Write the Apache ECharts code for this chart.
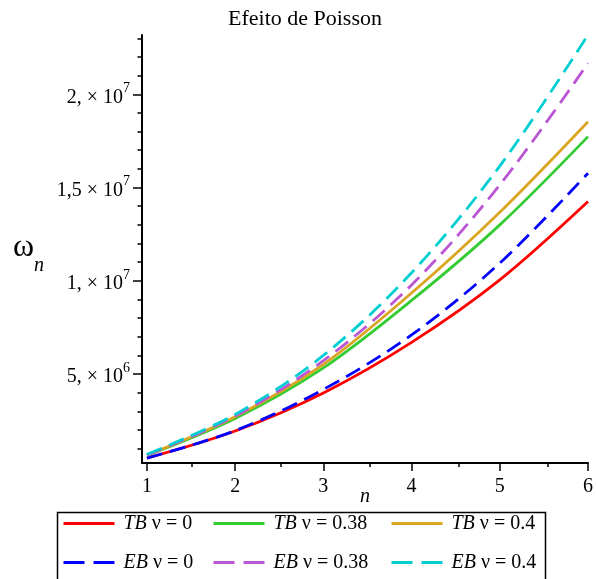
<!DOCTYPE html>
<html><head><meta charset="utf-8">
<script src="https://cdn.jsdelivr.net/npm/echarts@6/dist/echarts.min.js"></script>
<style>html,body{margin:0;padding:0;background:#fff}#c{width:596px;height:579px}</style>
</head><body><div id="c"></div>
<script>
// ---- data ----
const nValues = [1, 2, 3, 4, 5, 6];
const tbNu0   = [0.50e6, 1.95e6, 3.99e6, 6.70e6, 10.05e6, 14.25e6];
const tbNu038 = [0.64e6, 2.62e6, 5.33e6, 8.95e6, 13.00e6, 17.73e6];
const tbNu04  = [0.66e6, 2.72e6, 5.52e6, 9.35e6, 13.68e6, 18.53e6];
const ebNu0   = [0.50e6, 1.97e6, 4.18e6, 7.10e6, 10.95e6, 15.77e6];
const ebNu038 = [0.66e6, 2.75e6, 5.72e6, 9.78e6, 15.14e6, 21.66e6];
const ebNu04  = [0.70e6, 2.84e6, 6.00e6, 10.43e6, 16.15e6, 23.18e6];
const seriesNames = ['TB ν = 0', 'TB ν = 0.38', 'TB ν = 0.4', 'EB ν = 0', 'EB ν = 0.38', 'EB ν = 0.4'];

const xTickValues = [1, 2, 3, 4, 5, 6];
const xMinorTicks = [1.5, 2.5, 3.5, 4.5, 5.5];
const yTickValues = [5e6, 1e7, 1.5e7, 2e7];
const yTickMantissa = ['5,', '1,', '1,5', '2,'];
const yTickExponent = ['6', '7', '7', '7'];
const yMinorTicks = [1e6, 2e6, 3e6, 4e6, 6e6, 7e6, 8e6, 9e6, 11e6, 12e6, 13e6, 14e6,
                     16e6, 17e6, 18e6, 19e6, 21e6, 22e6, 23e6];

// ---- styling ----
const FONT = 'Liberation Serif';
const XMIN = 0.944, XMAX = 6, YMIN = 236000, YMAX = 23176000;
const DASH = [16, 8];
const seriesStyle = [
  {color: '#FF0000', type: 'solid'},
  {color: '#33CC33', type: 'solid'},
  {color: '#DAA520', type: 'solid'},
  {color: '#0000FF', type: DASH},
  {color: '#BA55D3', type: DASH},
  {color: '#00CED1', type: DASH}
];
const seriesData = [tbNu0, tbNu038, tbNu04, ebNu0, ebNu038, ebNu04];

const chart = echarts.init(document.getElementById('c'), null, {renderer: 'canvas'});
const gridBox = {left: 142, right: 4, top: 35, bottom: 116};

function legendFor(names, left) {
  return {
    orient: 'vertical', left: left, top: 513, padding: 0,
    itemWidth: 51, itemHeight: 14, itemGap: 18,
    selectedMode: false,
    data: names.map(n => ({
      name: n,
      lineStyle: n.startsWith('EB') ? {type: [21, 9], width: 3} : {width: 3}
    })),
    itemStyle: {opacity: 0},
    formatter: n => n.replace(/^(TB|EB)/, '{i|$1}'),
    textStyle: {
      fontFamily: FONT, fontSize: 20, color: '#000', lineHeight: 21, padding: [0, 0, 0, 4],
      rich: {i: {fontFamily: FONT, fontSize: 20, fontStyle: 'italic', color: '#000'}}
    }
  };
}

const option = {
  animation: false,
  backgroundColor: '#fff',
  title: {
    text: 'Efeito de Poisson', left: 228, top: 8, padding: 0,
    textStyle: {fontFamily: FONT, fontSize: 22, fontWeight: 'normal', color: '#000'}
  },
  grid: [Object.assign({}, gridBox), Object.assign({}, gridBox)],
  xAxis: [
    {
      gridIndex: 0, type: 'value', min: XMIN, max: XMAX,
      axisLine: {show: true, onZero: false, lineStyle: {color: '#000', width: 2}},
      axisTick: {show: true, customValues: xTickValues, length: 8, lineStyle: {color: '#000', width: 1.5}},
      axisLabel: {customValues: xTickValues, color: '#000', fontFamily: FONT, fontSize: 20, margin: 14},
      splitLine: {show: false},
      name: 'n', nameLocation: 'middle', nameGap: 24, nameMoveOverlap: false,
      nameTextStyle: {fontFamily: FONT, fontSize: 20, fontStyle: 'italic', color: '#000'}
    },
    {
      gridIndex: 1, type: 'value', min: XMIN, max: XMAX,
      axisLine: {show: false, onZero: false},
      axisTick: {show: true, customValues: xMinorTicks, length: 4, lineStyle: {color: '#000', width: 1.5}},
      axisLabel: {show: false}, splitLine: {show: false}
    }
  ],
  yAxis: [
    {
      gridIndex: 0, type: 'value', min: YMIN, max: YMAX,
      axisLine: {show: true, onZero: false, lineStyle: {color: '#000', width: 2}},
      axisTick: {show: true, customValues: yTickValues, length: 9, lineStyle: {color: '#000', width: 1.5}},
      axisLabel: {
        customValues: yTickValues, margin: 12,
        formatter: v => {
          const i = yTickValues.indexOf(v);
          return '{m|' + yTickMantissa[i] + ' × 10}{s|' + yTickExponent[i] + '}';
        },
        rich: {
          m: {fontFamily: FONT, fontSize: 20, color: '#000', lineHeight: 26, verticalAlign: 'bottom'},
          s: {fontFamily: FONT, fontSize: 14, color: '#000', lineHeight: 26, verticalAlign: 'top'}
        }
      },
      splitLine: {show: false},
      name: '{w|ω}{n|n}', nameLocation: 'middle', nameRotate: 0, nameGap: 98, nameMoveOverlap: false,
      nameTextStyle: {
        padding: [9, 0, 0, 0],
        rich: {
          w: {fontFamily: FONT, fontSize: 32, color: '#000', lineHeight: 44, verticalAlign: 'top'},
          n: {fontFamily: FONT, fontSize: 20, fontStyle: 'italic', color: '#000', lineHeight: 44, verticalAlign: 'bottom'}
        }
      }
    },
    {
      gridIndex: 1, type: 'value', min: YMIN, max: YMAX,
      axisLine: {show: false, onZero: false},
      axisTick: {show: true, customValues: yMinorTicks, length: 4.5, lineStyle: {color: '#000', width: 1.5}},
      axisLabel: {show: false}, splitLine: {show: false}
    }
  ],
  legend: [
    legendFor([seriesNames[0], seriesNames[3]], 62),
    legendFor([seriesNames[1], seriesNames[4]], 212),
    legendFor([seriesNames[2], seriesNames[5]], 390)
  ],
  graphic: [{
    type: 'rect', left: 55, top: 510, z: 100,
    shape: {x: 0, y: 0, width: 488, height: 68},
    style: {fill: 'none', stroke: '#000', lineWidth: 1.5}
  }],
  series: seriesData.map((d, k) => ({
    name: seriesNames[k], type: 'line', xAxisIndex: 0, yAxisIndex: 0,
    data: nValues.map((n, i) => [n, d[i]]),
    smooth: 0.33, symbol: 'none', showSymbol: false,
    color: seriesStyle[k].color,
    lineStyle: {color: seriesStyle[k].color, width: 2.8, type: seriesStyle[k].type}
  }))
};
chart.setOption(option);
</script></body></html>
